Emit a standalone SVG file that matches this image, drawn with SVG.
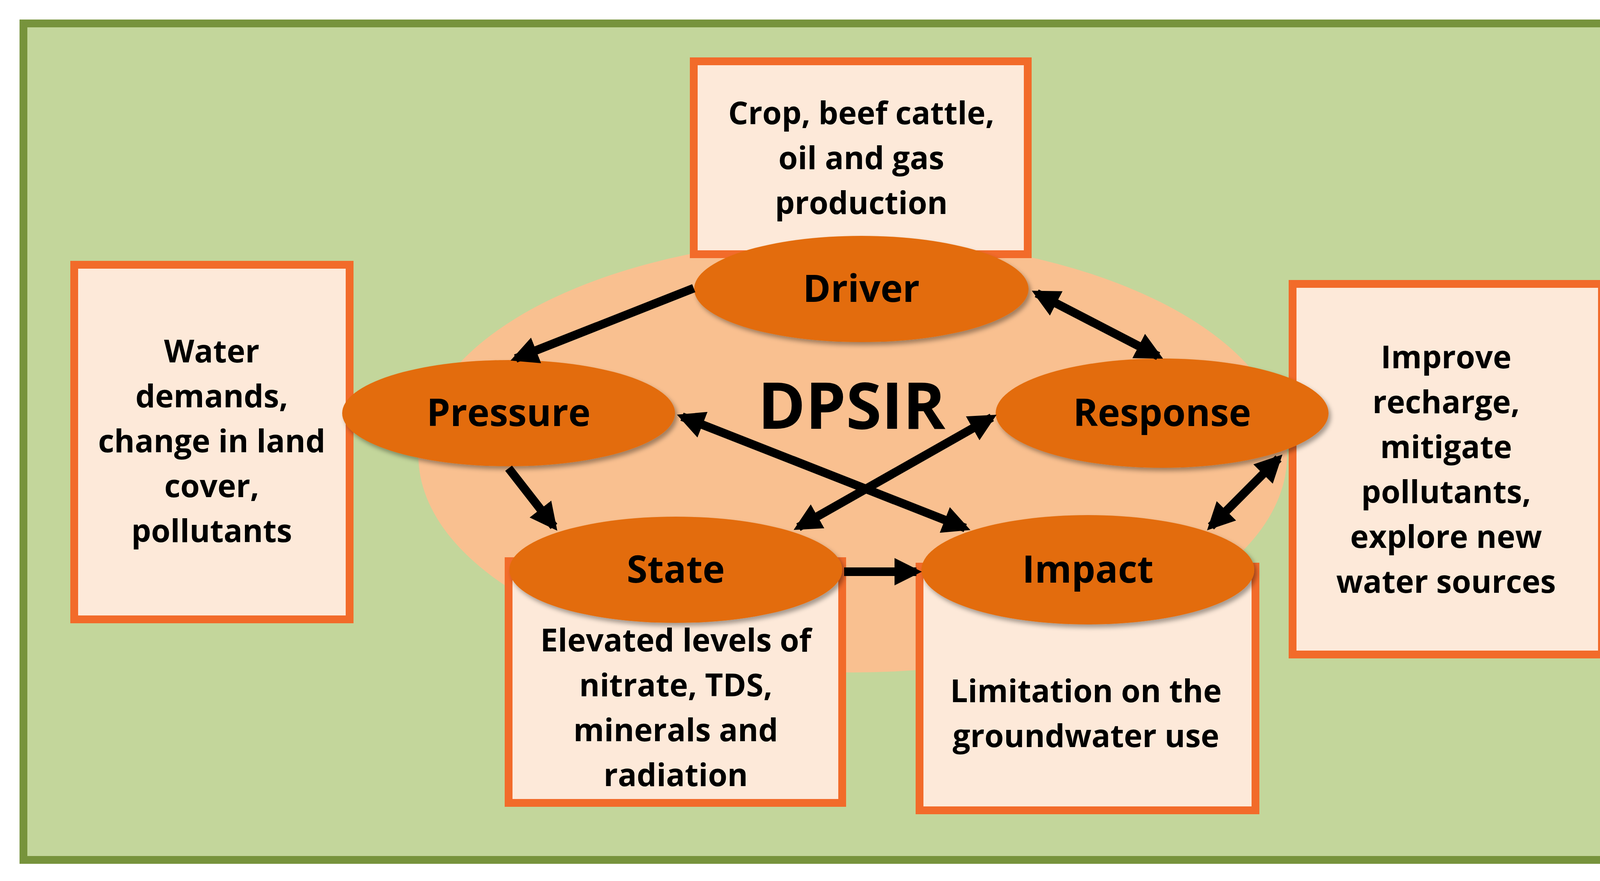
<svg xmlns="http://www.w3.org/2000/svg" width="4252" height="2256" viewBox="0 0 4252 2256">
<defs>
<marker id="ah" viewBox="0 0 10 10" refX="8" refY="5" markerWidth="3.2" markerHeight="3.2" orient="auto-start-reverse"><path d="M0,0 L10,5 L0,10 z" fill="#000"/></marker>
<filter id="sh" x="-20%" y="-20%" width="140%" height="150%"><feDropShadow dx="6" dy="8" stdDeviation="6" flood-color="#000" flood-opacity="0.35"/></filter>
</defs>
<style>
.box{fill:#FDE9D9;stroke:#F26B2A;stroke-width:20}
.el{fill:#E36C09;filter:url(#sh)}
.t{font-family:"Open Sans","Liberation Sans",sans-serif;font-weight:bold;fill:#000;text-anchor:middle}
.bt{font-size:80px}
.et{font-size:96px}
.ar{stroke:#000;stroke-width:22;fill:none;marker-end:url(#ah)}
.ar2{stroke:#000;stroke-width:22;fill:none;marker-end:url(#ah);marker-start:url(#ah)}
</style>
<rect x="60" y="60" width="4130" height="2142" fill="#C3D69B" stroke="#77933C" stroke-width="20"/>
<ellipse cx="2183" cy="1166" rx="1112" ry="556" fill="#F9C090"/>
<g id="top-box"><rect class="box" x="1776" y="157" width="855" height="494"/>
<text class="t bt" x="2205" y="318">Crop, beef cattle,</text><text class="t bt" x="2205" y="433">oil and gas</text><text class="t bt" x="2205" y="548">production</text></g>
<g id="left-box"><rect class="box" x="190" y="678" width="705" height="908"/>
<text class="t bt" x="542" y="928">Water</text><text class="t bt" x="542" y="1043">demands,</text><text class="t bt" x="542" y="1158">change in land</text><text class="t bt" x="542" y="1273">cover,</text><text class="t bt" x="542" y="1388">pollutants</text></g>
<g id="right-box"><rect class="box" x="3309" y="727" width="792" height="949"/>
<text class="t bt" x="3702" y="943">Improve</text><text class="t bt" x="3702" y="1058">recharge,</text><text class="t bt" x="3702" y="1173">mitigate</text><text class="t bt" x="3702" y="1288">pollutants,</text><text class="t bt" x="3702" y="1403">explore new</text><text class="t bt" x="3702" y="1518">water sources</text></g>
<g id="state-box"><rect class="box" x="1302" y="1437" width="854" height="619"/>
<text class="t bt" x="1730" y="1668">Elevated levels of</text><text class="t bt" x="1730" y="1783">nitrate, TDS,</text><text class="t bt" x="1730" y="1898">minerals and</text><text class="t bt" x="1730" y="2013">radiation</text></g>
<g id="impact-box"><rect class="box" x="2354" y="1451" width="860" height="624"/>
<text class="t bt" x="2780" y="1798">Limitation on the</text><text class="t bt" x="2780" y="1913">groundwater use</text></g>
<text class="t" x="2180" y="1098" font-size="165">DPSIR</text>
<g id="driver"><ellipse class="el" cx="2205" cy="740" rx="428" ry="136"/><text class="t et" x="2205" y="773">Driver</text></g>
<g id="pressure"><ellipse class="el" cx="1302" cy="1058" rx="426" ry="136"/><text class="t et" x="1302" y="1091">Pressure</text></g>
<g id="response"><ellipse class="el" cx="2975" cy="1058" rx="426" ry="140"/><text class="t et" x="2975" y="1091">Response</text></g>
<g id="state"><ellipse class="el" cx="1730" cy="1459" rx="426" ry="136"/><text class="t et" x="1730" y="1492">State</text></g>
<g id="impact"><ellipse class="el" cx="2785" cy="1459" rx="426" ry="140"/><text class="t et" x="2785" y="1492">Impact</text></g>
<g id="connectors">
<line class="ar" x1="1776" y1="738" x2="1320" y2="918"/>
<line class="ar2" x1="2654" y1="751" x2="2965" y2="912"/>
<line class="ar2" x1="1746" y1="1067" x2="2471" y2="1352"/>
<line class="ar2" x1="2539" y1="1069" x2="2044" y2="1350"/>
<line class="ar" x1="1302" y1="1199" x2="1418" y2="1348"/>
<line class="ar" x1="2161" y1="1464" x2="2346" y2="1464"/>
<line class="ar2" x1="3100" y1="1348" x2="3273" y2="1174"/>
</g>
</svg>
